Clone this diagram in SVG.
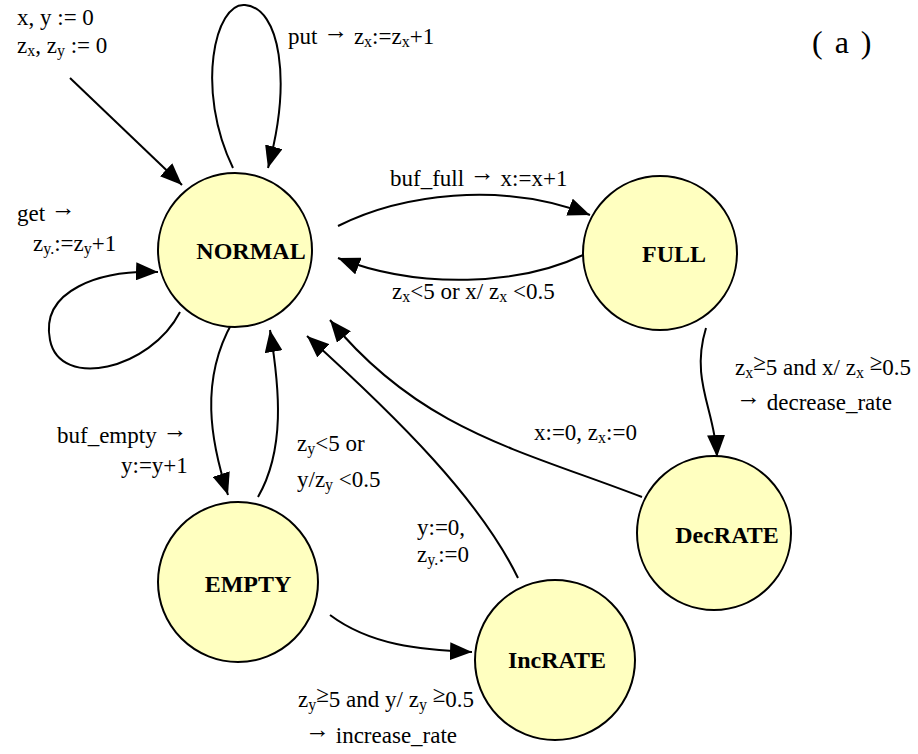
<svg xmlns="http://www.w3.org/2000/svg" width="918" height="754" viewBox="0 0 918 754">
  <style>
    .state { fill: #FFFFC0; stroke: #000; stroke-width: 2; }
    .name { font-family: "Liberation Serif", Tinos, "Times New Roman", "DejaVu Serif", serif; font-size: 24px; font-weight: bold; text-anchor: middle; fill: #000; }
    .lbl { font-family: "Liberation Serif", Tinos, "Times New Roman", "DejaVu Serif", serif; font-size: 23px; fill: #000; }
    .sub { font-size: 16px; }
    .arr { font-size: 25px; }
    .edge { fill: none; stroke: #000; stroke-width: 2; marker-end: url(#head); }
  </style>
  <defs>
    <marker id="head" viewBox="0 0 22 18" refX="22" refY="9" markerWidth="22" markerHeight="18" markerUnits="userSpaceOnUse" orient="auto">
      <path d="M0,0 L22,9 L0,18 Z" fill="#000"/>
    </marker>
  </defs>
  <rect width="918" height="754" fill="#fff"/>

  <g id="connectors">
    <path class="edge" d="M70,78 L182,185"/>
    <path class="edge" d="M233,168 C 195,90 215,2 245,5 C 280,8 292,80 268,168"/>
    <path class="edge" d="M180,312 C 150,370 60,390 50,340 C 40,290 100,270 158,272"/>
    <path class="edge" d="M338,226 C 400,195 500,180 590,215"/>
    <path class="edge" d="M583,255 C 520,285 420,290 338,258"/>
    <path class="edge" d="M706,328 C 690,380 715,410 717,457"/>
    <path class="edge" d="M642,497 C 520,450 420,430 330,320"/>
    <path class="edge" d="M232,323 C 200,380 210,440 228,495"/>
    <path class="edge" d="M258,497 C 285,450 280,390 270,330"/>
    <path class="edge" d="M330,615 C 370,645 420,650 472,652"/>
    <path class="edge" d="M518,578 C 480,500 400,420 307,336"/>
  </g>

  <g id="NORMAL">
    <circle class="state" cx="235" cy="250" r="77"/>
    <text class="name" x="251" y="259">NORMAL</text>
  </g>
  <g id="FULL">
    <circle class="state" cx="660" cy="253" r="77"/>
    <text class="name" x="674" y="262">FULL</text>
  </g>
  <g id="DecRATE">
    <circle class="state" cx="714" cy="533" r="77"/>
    <text class="name" x="727" y="543">DecRATE</text>
  </g>
  <g id="EMPTY">
    <circle class="state" cx="238" cy="582" r="80"/>
    <text class="name" x="248" y="592">EMPTY</text>
  </g>
  <g id="IncRATE">
    <circle class="state" cx="555" cy="660" r="80"/>
    <text class="name" x="557" y="668">IncRATE</text>
  </g>

  <g id="labels">
    <text class="lbl" x="17" y="25">x, y := 0</text>
    <text class="lbl" x="17" y="53">z<tspan class="sub" dy="3">x</tspan><tspan dy="-3">, z</tspan><tspan class="sub" dy="3">y</tspan><tspan dy="-3"> := 0</tspan></text>

    <text class="lbl" x="288" y="44">put <tspan class="arr" dy="-5">→</tspan><tspan dy="5"> z</tspan><tspan class="sub" dy="3">x</tspan><tspan dy="-3">:=z</tspan><tspan class="sub" dy="3">x</tspan><tspan dy="-3">+1</tspan></text>

    <text class="lbl" x="812" y="53" style="font-size:32px; letter-spacing:2px">( a )</text>

    <text class="lbl" x="390" y="186">buf_full <tspan class="arr" dy="-5">→</tspan><tspan dy="5"> x:=x+1</tspan></text>

    <text class="lbl" x="392" y="299">z<tspan class="sub" dy="3">x</tspan><tspan dy="-3">&lt;5 or x/ z</tspan><tspan class="sub" dy="3">x</tspan><tspan dy="-3"> &lt;0.5</tspan></text>

    <text class="lbl" x="17" y="221">get <tspan class="arr" dy="-5">→</tspan></text>
    <text class="lbl" x="33" y="251">z<tspan class="sub" dy="3">y.</tspan><tspan dy="-3">:=z</tspan><tspan class="sub" dy="3">y</tspan><tspan dy="-3">+1</tspan></text>

    <text class="lbl" x="735" y="375">z<tspan class="sub" dy="3">x</tspan><tspan dy="-8">≥</tspan><tspan dy="5">5 and x/ z</tspan><tspan class="sub" dy="3">x</tspan><tspan dy="-8"> ≥</tspan><tspan dy="5">0.5</tspan></text>
    <text class="lbl" x="736" y="410"><tspan class="arr" dy="-5">→</tspan><tspan dy="5"> decrease_rate</tspan></text>

    <text class="lbl" x="534" y="440">x:=0, z<tspan class="sub" dy="3">x</tspan><tspan dy="-3">:=0</tspan></text>

    <text class="lbl" x="57" y="443">buf_empty <tspan class="arr" dy="-5">→</tspan></text>
    <text class="lbl" x="121" y="473">y:=y+1</text>

    <text class="lbl" x="297" y="451">z<tspan class="sub" dy="3">y</tspan><tspan dy="-3">&lt;5 or</tspan></text>
    <text class="lbl" x="297" y="487">y/z<tspan class="sub" dy="3">y</tspan><tspan dy="-3"> &lt;0.5</tspan></text>

    <text class="lbl" x="417" y="535">y:=0,</text>
    <text class="lbl" x="417" y="562">z<tspan class="sub" dy="3">y.</tspan><tspan dy="-3">:=0</tspan></text>

    <text class="lbl" x="298" y="707">z<tspan class="sub" dy="3">y</tspan><tspan dy="-8">≥</tspan><tspan dy="5">5 and y/ z</tspan><tspan class="sub" dy="3">y</tspan><tspan dy="-8"> ≥</tspan><tspan dy="5">0.5</tspan></text>
    <text class="lbl" x="305" y="743"><tspan class="arr" dy="-5">→</tspan><tspan dy="5"> increase_rate</tspan></text>
  </g>
</svg>
